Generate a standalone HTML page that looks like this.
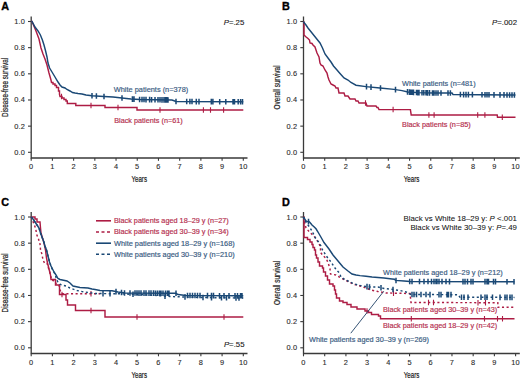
<!DOCTYPE html>
<html><head><meta charset="utf-8"><style>
html,body{margin:0;padding:0;background:#fff;width:520px;height:381px;overflow:hidden}
svg{display:block}
text{font-family:"Liberation Sans",sans-serif}
.tk{font-size:7.4px;fill:#2a2a2a;letter-spacing:0.2px;stroke:#2a2a2a;stroke-width:0.1px}
.ttl{font-size:8.9px;fill:#1a1a1a;stroke:#1a1a1a;stroke-width:0.2px}
.lt{font-size:10.8px;font-weight:bold;fill:#000;stroke:#000;stroke-width:0.35px}
.lb{font-size:7.2px}
</style></head><body>
<svg width="520" height="381" viewBox="0 0 520 381">
<path d="M31.20 16.50 V158.00 H247.50" fill="none" stroke="#3a3a3a" stroke-width="1.3"/>
<path d="M28.00 152.30 H31.20" stroke="#3a3a3a" stroke-width="1.1"/>
<text x="25.00" y="154.80" text-anchor="end" class="tk">0.0</text>
<path d="M28.00 126.14 H31.20" stroke="#3a3a3a" stroke-width="1.1"/>
<text x="25.00" y="128.64" text-anchor="end" class="tk">0.2</text>
<path d="M28.00 99.98 H31.20" stroke="#3a3a3a" stroke-width="1.1"/>
<text x="25.00" y="102.48" text-anchor="end" class="tk">0.4</text>
<path d="M28.00 73.82 H31.20" stroke="#3a3a3a" stroke-width="1.1"/>
<text x="25.00" y="76.32" text-anchor="end" class="tk">0.6</text>
<path d="M28.00 47.66 H31.20" stroke="#3a3a3a" stroke-width="1.1"/>
<text x="25.00" y="50.16" text-anchor="end" class="tk">0.8</text>
<path d="M28.00 21.50 H31.20" stroke="#3a3a3a" stroke-width="1.1"/>
<text x="25.00" y="24.00" text-anchor="end" class="tk">1.0</text>
<path d="M31.20 158.00 V160.80" stroke="#3a3a3a" stroke-width="1.1"/>
<text x="31.20" y="169.10" text-anchor="middle" class="tk">0</text>
<path d="M52.41 158.00 V160.80" stroke="#3a3a3a" stroke-width="1.1"/>
<text x="52.41" y="169.10" text-anchor="middle" class="tk">1</text>
<path d="M73.62 158.00 V160.80" stroke="#3a3a3a" stroke-width="1.1"/>
<text x="73.62" y="169.10" text-anchor="middle" class="tk">2</text>
<path d="M94.83 158.00 V160.80" stroke="#3a3a3a" stroke-width="1.1"/>
<text x="94.83" y="169.10" text-anchor="middle" class="tk">3</text>
<path d="M116.04 158.00 V160.80" stroke="#3a3a3a" stroke-width="1.1"/>
<text x="116.04" y="169.10" text-anchor="middle" class="tk">4</text>
<path d="M137.25 158.00 V160.80" stroke="#3a3a3a" stroke-width="1.1"/>
<text x="137.25" y="169.10" text-anchor="middle" class="tk">5</text>
<path d="M158.46 158.00 V160.80" stroke="#3a3a3a" stroke-width="1.1"/>
<text x="158.46" y="169.10" text-anchor="middle" class="tk">6</text>
<path d="M179.67 158.00 V160.80" stroke="#3a3a3a" stroke-width="1.1"/>
<text x="179.67" y="169.10" text-anchor="middle" class="tk">7</text>
<path d="M200.88 158.00 V160.80" stroke="#3a3a3a" stroke-width="1.1"/>
<text x="200.88" y="169.10" text-anchor="middle" class="tk">8</text>
<path d="M222.09 158.00 V160.80" stroke="#3a3a3a" stroke-width="1.1"/>
<text x="222.09" y="169.10" text-anchor="middle" class="tk">9</text>
<path d="M243.30 158.00 V160.80" stroke="#3a3a3a" stroke-width="1.1"/>
<text x="243.30" y="169.10" text-anchor="middle" class="tk">10</text>
<text x="131.50" y="182.30" class="ttl" textLength="15.5" lengthAdjust="spacingAndGlyphs">Years</text>
<text transform="translate(7.60 87.40) rotate(-90)" text-anchor="middle" class="ttl" textLength="59" lengthAdjust="spacingAndGlyphs">Disease-free survival</text>
<text x="1.20" y="10.00" class="lt">A</text>
<path d="M303.50 16.50 V158.00 H519.80" fill="none" stroke="#3a3a3a" stroke-width="1.3"/>
<path d="M300.30 152.30 H303.50" stroke="#3a3a3a" stroke-width="1.1"/>
<text x="297.30" y="154.80" text-anchor="end" class="tk">0.0</text>
<path d="M300.30 126.14 H303.50" stroke="#3a3a3a" stroke-width="1.1"/>
<text x="297.30" y="128.64" text-anchor="end" class="tk">0.2</text>
<path d="M300.30 99.98 H303.50" stroke="#3a3a3a" stroke-width="1.1"/>
<text x="297.30" y="102.48" text-anchor="end" class="tk">0.4</text>
<path d="M300.30 73.82 H303.50" stroke="#3a3a3a" stroke-width="1.1"/>
<text x="297.30" y="76.32" text-anchor="end" class="tk">0.6</text>
<path d="M300.30 47.66 H303.50" stroke="#3a3a3a" stroke-width="1.1"/>
<text x="297.30" y="50.16" text-anchor="end" class="tk">0.8</text>
<path d="M300.30 21.50 H303.50" stroke="#3a3a3a" stroke-width="1.1"/>
<text x="297.30" y="24.00" text-anchor="end" class="tk">1.0</text>
<path d="M303.50 158.00 V160.80" stroke="#3a3a3a" stroke-width="1.1"/>
<text x="303.50" y="169.10" text-anchor="middle" class="tk">0</text>
<path d="M324.71 158.00 V160.80" stroke="#3a3a3a" stroke-width="1.1"/>
<text x="324.71" y="169.10" text-anchor="middle" class="tk">1</text>
<path d="M345.92 158.00 V160.80" stroke="#3a3a3a" stroke-width="1.1"/>
<text x="345.92" y="169.10" text-anchor="middle" class="tk">2</text>
<path d="M367.13 158.00 V160.80" stroke="#3a3a3a" stroke-width="1.1"/>
<text x="367.13" y="169.10" text-anchor="middle" class="tk">3</text>
<path d="M388.34 158.00 V160.80" stroke="#3a3a3a" stroke-width="1.1"/>
<text x="388.34" y="169.10" text-anchor="middle" class="tk">4</text>
<path d="M409.55 158.00 V160.80" stroke="#3a3a3a" stroke-width="1.1"/>
<text x="409.55" y="169.10" text-anchor="middle" class="tk">5</text>
<path d="M430.76 158.00 V160.80" stroke="#3a3a3a" stroke-width="1.1"/>
<text x="430.76" y="169.10" text-anchor="middle" class="tk">6</text>
<path d="M451.97 158.00 V160.80" stroke="#3a3a3a" stroke-width="1.1"/>
<text x="451.97" y="169.10" text-anchor="middle" class="tk">7</text>
<path d="M473.18 158.00 V160.80" stroke="#3a3a3a" stroke-width="1.1"/>
<text x="473.18" y="169.10" text-anchor="middle" class="tk">8</text>
<path d="M494.39 158.00 V160.80" stroke="#3a3a3a" stroke-width="1.1"/>
<text x="494.39" y="169.10" text-anchor="middle" class="tk">9</text>
<path d="M515.60 158.00 V160.80" stroke="#3a3a3a" stroke-width="1.1"/>
<text x="515.60" y="169.10" text-anchor="middle" class="tk">10</text>
<text x="403.80" y="182.30" class="ttl" textLength="15.5" lengthAdjust="spacingAndGlyphs">Years</text>
<text transform="translate(279.90 87.40) rotate(-90)" text-anchor="middle" class="ttl" textLength="44" lengthAdjust="spacingAndGlyphs">Overall survival</text>
<text x="282.10" y="10.00" class="lt">B</text>
<path d="M31.20 212.00 V353.50 H247.50" fill="none" stroke="#3a3a3a" stroke-width="1.3"/>
<path d="M28.00 347.80 H31.20" stroke="#3a3a3a" stroke-width="1.1"/>
<text x="25.00" y="350.30" text-anchor="end" class="tk">0.0</text>
<path d="M28.00 321.64 H31.20" stroke="#3a3a3a" stroke-width="1.1"/>
<text x="25.00" y="324.14" text-anchor="end" class="tk">0.2</text>
<path d="M28.00 295.48 H31.20" stroke="#3a3a3a" stroke-width="1.1"/>
<text x="25.00" y="297.98" text-anchor="end" class="tk">0.4</text>
<path d="M28.00 269.32 H31.20" stroke="#3a3a3a" stroke-width="1.1"/>
<text x="25.00" y="271.82" text-anchor="end" class="tk">0.6</text>
<path d="M28.00 243.16 H31.20" stroke="#3a3a3a" stroke-width="1.1"/>
<text x="25.00" y="245.66" text-anchor="end" class="tk">0.8</text>
<path d="M28.00 217.00 H31.20" stroke="#3a3a3a" stroke-width="1.1"/>
<text x="25.00" y="219.50" text-anchor="end" class="tk">1.0</text>
<path d="M31.20 353.50 V356.30" stroke="#3a3a3a" stroke-width="1.1"/>
<text x="31.20" y="364.60" text-anchor="middle" class="tk">0</text>
<path d="M52.41 353.50 V356.30" stroke="#3a3a3a" stroke-width="1.1"/>
<text x="52.41" y="364.60" text-anchor="middle" class="tk">1</text>
<path d="M73.62 353.50 V356.30" stroke="#3a3a3a" stroke-width="1.1"/>
<text x="73.62" y="364.60" text-anchor="middle" class="tk">2</text>
<path d="M94.83 353.50 V356.30" stroke="#3a3a3a" stroke-width="1.1"/>
<text x="94.83" y="364.60" text-anchor="middle" class="tk">3</text>
<path d="M116.04 353.50 V356.30" stroke="#3a3a3a" stroke-width="1.1"/>
<text x="116.04" y="364.60" text-anchor="middle" class="tk">4</text>
<path d="M137.25 353.50 V356.30" stroke="#3a3a3a" stroke-width="1.1"/>
<text x="137.25" y="364.60" text-anchor="middle" class="tk">5</text>
<path d="M158.46 353.50 V356.30" stroke="#3a3a3a" stroke-width="1.1"/>
<text x="158.46" y="364.60" text-anchor="middle" class="tk">6</text>
<path d="M179.67 353.50 V356.30" stroke="#3a3a3a" stroke-width="1.1"/>
<text x="179.67" y="364.60" text-anchor="middle" class="tk">7</text>
<path d="M200.88 353.50 V356.30" stroke="#3a3a3a" stroke-width="1.1"/>
<text x="200.88" y="364.60" text-anchor="middle" class="tk">8</text>
<path d="M222.09 353.50 V356.30" stroke="#3a3a3a" stroke-width="1.1"/>
<text x="222.09" y="364.60" text-anchor="middle" class="tk">9</text>
<path d="M243.30 353.50 V356.30" stroke="#3a3a3a" stroke-width="1.1"/>
<text x="243.30" y="364.60" text-anchor="middle" class="tk">10</text>
<text x="131.50" y="377.80" class="ttl" textLength="15.5" lengthAdjust="spacingAndGlyphs">Years</text>
<text transform="translate(7.60 282.90) rotate(-90)" text-anchor="middle" class="ttl" textLength="59" lengthAdjust="spacingAndGlyphs">Disease-free survival</text>
<text x="1.20" y="205.50" class="lt">C</text>
<path d="M303.50 212.00 V353.50 H519.80" fill="none" stroke="#3a3a3a" stroke-width="1.3"/>
<path d="M300.30 347.80 H303.50" stroke="#3a3a3a" stroke-width="1.1"/>
<text x="297.30" y="350.30" text-anchor="end" class="tk">0.0</text>
<path d="M300.30 321.64 H303.50" stroke="#3a3a3a" stroke-width="1.1"/>
<text x="297.30" y="324.14" text-anchor="end" class="tk">0.2</text>
<path d="M300.30 295.48 H303.50" stroke="#3a3a3a" stroke-width="1.1"/>
<text x="297.30" y="297.98" text-anchor="end" class="tk">0.4</text>
<path d="M300.30 269.32 H303.50" stroke="#3a3a3a" stroke-width="1.1"/>
<text x="297.30" y="271.82" text-anchor="end" class="tk">0.6</text>
<path d="M300.30 243.16 H303.50" stroke="#3a3a3a" stroke-width="1.1"/>
<text x="297.30" y="245.66" text-anchor="end" class="tk">0.8</text>
<path d="M300.30 217.00 H303.50" stroke="#3a3a3a" stroke-width="1.1"/>
<text x="297.30" y="219.50" text-anchor="end" class="tk">1.0</text>
<path d="M303.50 353.50 V356.30" stroke="#3a3a3a" stroke-width="1.1"/>
<text x="303.50" y="364.60" text-anchor="middle" class="tk">0</text>
<path d="M324.71 353.50 V356.30" stroke="#3a3a3a" stroke-width="1.1"/>
<text x="324.71" y="364.60" text-anchor="middle" class="tk">1</text>
<path d="M345.92 353.50 V356.30" stroke="#3a3a3a" stroke-width="1.1"/>
<text x="345.92" y="364.60" text-anchor="middle" class="tk">2</text>
<path d="M367.13 353.50 V356.30" stroke="#3a3a3a" stroke-width="1.1"/>
<text x="367.13" y="364.60" text-anchor="middle" class="tk">3</text>
<path d="M388.34 353.50 V356.30" stroke="#3a3a3a" stroke-width="1.1"/>
<text x="388.34" y="364.60" text-anchor="middle" class="tk">4</text>
<path d="M409.55 353.50 V356.30" stroke="#3a3a3a" stroke-width="1.1"/>
<text x="409.55" y="364.60" text-anchor="middle" class="tk">5</text>
<path d="M430.76 353.50 V356.30" stroke="#3a3a3a" stroke-width="1.1"/>
<text x="430.76" y="364.60" text-anchor="middle" class="tk">6</text>
<path d="M451.97 353.50 V356.30" stroke="#3a3a3a" stroke-width="1.1"/>
<text x="451.97" y="364.60" text-anchor="middle" class="tk">7</text>
<path d="M473.18 353.50 V356.30" stroke="#3a3a3a" stroke-width="1.1"/>
<text x="473.18" y="364.60" text-anchor="middle" class="tk">8</text>
<path d="M494.39 353.50 V356.30" stroke="#3a3a3a" stroke-width="1.1"/>
<text x="494.39" y="364.60" text-anchor="middle" class="tk">9</text>
<path d="M515.60 353.50 V356.30" stroke="#3a3a3a" stroke-width="1.1"/>
<text x="515.60" y="364.60" text-anchor="middle" class="tk">10</text>
<text x="403.80" y="377.80" class="ttl" textLength="15.5" lengthAdjust="spacingAndGlyphs">Years</text>
<text transform="translate(279.90 282.90) rotate(-90)" text-anchor="middle" class="ttl" textLength="44" lengthAdjust="spacingAndGlyphs">Overall survival</text>
<text x="282.10" y="205.50" class="lt">D</text>
<path d="M31.20,21.50 L32.00,21.50 L36.00,31.00 L39.00,39.00 L41.00,48.00 L43.00,54.00 L45.00,59.00 L47.00,65.00 L49.00,73.00 L51.00,80.00 L51.50,82.50 L53.00,82.50 L53.00,84.00 L55.00,84.00 L55.00,85.50 L56.50,85.50 L56.50,87.50 L58.50,87.50 L58.50,91.00 L59.50,91.00 L59.50,94.50 L60.00,96.50 L62.00,96.50 L62.00,98.00 L64.00,98.00 L64.00,99.50 L66.00,99.50 L66.00,101.00 L67.30,101.00 L67.30,103.50 L75.80,103.50 L75.80,105.50 L105.00,105.50 L105.00,107.50 L137.00,107.50 L137.00,110.00 L243.30,110.00" fill="none" stroke="#ad1c44" stroke-width="1.45" stroke-linejoin="miter"/>
<path d="M61.50 93.75v5.5 M91.00 102.75v5.5 M118.00 104.75v5.5 M160.00 107.25v5.5 M203.40 107.25v5.5 M210.50 107.25v5.5 M223.60 107.25v5.5" stroke="#ad1c44" stroke-width="1.1" fill="none"/>
<path d="M31.20,21.50 L32.00,21.50 L35.00,27.00 L38.00,31.00 L40.40,35.00 L42.40,40.00 L44.00,45.00 L45.60,51.00 L47.00,57.00 L48.00,63.00 L49.60,68.00 L52.00,72.00 L55.00,77.00 L58.00,82.00 L60.00,85.00 L62.00,87.00 L65.00,88.00 L67.00,89.50 L70.00,91.00 L72.50,92.50 L75.00,93.00 L78.00,93.50 L82.00,94.00 L86.00,95.00 L92.00,95.80 L104.00,96.50 L113.00,97.00 L122.00,98.00 L131.00,99.00 L140.00,99.50 L172.00,100.00 L176.00,101.50 L243.30,101.80" fill="none" stroke="#1a4875" stroke-width="1.45" stroke-linejoin="miter"/>
<path d="M92.00 93.00v5.6 M96.40 93.26v5.6 M104.00 93.70v5.6 M122.00 95.20v5.6 M132.40 96.28v5.6 M134.00 96.37v5.6 M139.60 96.68v5.6 M142.00 96.73v5.6 M144.00 96.76v5.6 M146.00 96.79v5.6 M149.60 96.85v5.6 M151.60 96.88v5.6 M155.00 96.93v5.6 M158.00 96.98v5.6 M160.00 97.01v5.6 M162.00 97.04v5.6 M164.00 97.08v5.6 M165.60 97.10v5.6 M167.00 97.12v5.6 M168.00 97.14v5.6 M176.00 98.70v5.6 M186.70 98.75v5.6 M189.90 98.76v5.6 M192.00 98.77v5.6 M196.30 98.79v5.6 M199.00 98.80v5.6 M211.30 98.86v5.6 M212.90 98.86v5.6 M219.70 98.89v5.6 M225.80 98.92v5.6 M233.00 98.95v5.6 M234.50 98.96v5.6 M238.20 98.98v5.6 M240.60 98.99v5.6 M242.50 99.00v5.6" stroke="#1a4875" stroke-width="1.5" fill="none"/>
<path d="M303.50,21.50 L304.00,22.00 L304.00,35.00 L305.50,36.50 L308.00,38.50 L309.50,40.00 L310.00,43.00 L312.00,43.50 L313.00,45.00 L315.00,47.00 L316.00,50.00 L317.00,53.00 L318.00,55.00 L319.00,57.00 L320.00,63.00 L321.00,65.00 L323.00,66.00 L324.00,68.00 L325.00,70.00 L327.00,73.00 L328.00,77.00 L329.00,80.00 L330.00,82.00 L331.00,84.00 L333.00,85.00 L335.00,86.00 L336.00,88.00 L338.00,88.00 L339.00,93.00 L344.00,93.00 L345.00,96.00 L348.00,96.00 L350.00,99.00 L355.00,99.00 L356.00,101.00 L358.00,101.00 L359.00,103.00 L366.00,103.00 L367.00,106.00 L376.00,106.00 L377.00,107.50 L378.00,107.50 L379.00,109.60 L410.40,109.60 L411.20,114.90 L497.20,114.90 L497.50,117.20 L515.50,117.20" fill="none" stroke="#ad1c44" stroke-width="1.45" stroke-linejoin="miter"/>
<path d="M365.50 100.25v5.5 M393.10 106.85v5.5 M428.90 112.15v5.5 M434.10 112.15v5.5 M477.70 112.15v5.5 M484.90 112.15v5.5 M502.30 114.45v5.5" stroke="#ad1c44" stroke-width="1.1" fill="none"/>
<path d="M303.50,21.50 L304.00,22.50 L306.00,25.00 L308.00,28.00 L312.00,33.00 L316.00,38.00 L320.00,43.00 L322.50,48.00 L325.00,54.00 L328.00,58.00 L331.00,62.00 L333.50,66.00 L337.00,70.00 L340.00,73.50 L344.00,78.00 L348.00,80.00 L351.00,82.50 L356.00,85.20 L366.00,86.60 L380.00,88.00 L394.00,89.40 L402.00,90.60 L408.00,92.00 L418.00,92.60 L434.00,93.00 L452.00,93.00 L453.00,94.50 L515.50,95.00" fill="none" stroke="#1a4875" stroke-width="1.45" stroke-linejoin="miter"/>
<path d="M366.50 83.85v5.6 M371.00 84.30v5.6 M380.50 85.25v5.6 M395.50 86.83v5.6 M407.50 89.08v5.6 M409.50 89.29v5.6 M411.00 89.38v5.6 M412.50 89.47v5.6 M413.50 89.53v5.6 M416.50 89.71v5.6 M417.80 89.79v5.6 M419.00 89.83v5.6 M422.00 89.90v5.6 M423.80 89.94v5.6 M426.00 90.00v5.6 M427.50 90.04v5.6 M429.50 90.09v5.6 M432.50 90.16v5.6 M434.00 90.20v5.6 M436.00 90.20v5.6 M438.00 90.20v5.6 M441.00 90.20v5.6 M448.00 90.20v5.6 M450.40 90.20v5.6 M460.40 91.76v5.6 M463.60 91.78v5.6 M466.00 91.80v5.6 M468.40 91.82v5.6 M472.40 91.86v5.6 M482.00 91.93v5.6 M485.00 91.96v5.6 M487.00 91.97v5.6 M489.00 91.99v5.6 M494.00 92.03v5.6 M500.00 92.08v5.6 M504.00 92.11v5.6 M507.00 92.13v5.6 M509.60 92.15v5.6 M512.00 92.17v5.6 M514.40 92.19v5.6" stroke="#1a4875" stroke-width="1.5" fill="none"/>
<path d="M31.20,217.00 L35.00,217.00 L35.00,219.00 L37.00,219.00 L37.00,222.00 L40.00,222.00 L40.50,228.00 L41.00,233.00 L42.50,238.00 L44.00,243.00 L45.50,250.00 L46.50,258.00 L47.50,263.00 L48.50,267.00 L49.50,271.00 L50.50,275.00 L51.00,279.50 L55.50,279.50 L55.50,285.00 L59.50,285.00 L59.50,294.50 L66.00,294.50 L66.00,300.00 L67.50,300.00 L67.50,305.00 L75.50,305.00 L75.50,310.50 L105.00,310.50 L105.00,317.00 L243.30,317.00" fill="none" stroke="#ad1c44" stroke-width="1.45" stroke-linejoin="miter"/>
<path d="M62.00 291.75v5.5 M91.00 307.75v5.5 M137.00 314.25v5.5 M224.00 314.25v5.5" stroke="#ad1c44" stroke-width="1.1" fill="none"/>
<path d="M31.20,217.00 L32.00,219.00 L34.00,224.00 L35.80,229.00 L36.50,234.00 L38.50,239.00 L40.00,244.00 L40.50,249.50 L42.00,254.50 L43.00,260.00 L44.50,263.00 L47.00,263.00 L48.00,267.00 L49.50,271.00 L50.50,275.00 L51.50,280.00 L55.00,281.00 L56.50,285.00 L59.50,286.00 L60.00,290.00 L62.00,293.70 L100.00,293.70" fill="none" stroke="#ad1c44" stroke-width="1.45" stroke-linejoin="miter" stroke-dasharray="2.1 2.5"/>
<path d="M91.00 290.95v5.5" stroke="#ad1c44" stroke-width="1.1" fill="none"/>
<path d="M31.20,217.00 L33.00,219.00 L35.00,222.00 L37.00,225.00 L39.00,228.00 L40.50,233.00 L42.00,237.00 L43.50,241.00 L45.00,246.00 L46.50,250.00 L48.00,256.00 L49.50,262.00 L51.00,266.50 L53.00,270.50 L55.00,274.00 L56.50,279.00 L58.00,282.50 L60.00,284.30 L62.00,285.00 L66.00,286.00 L70.00,288.00 L77.00,290.50 L82.00,291.50 L88.00,292.50 L95.00,293.50 L120.00,293.80 L150.00,295.00 L170.00,296.50 L200.00,297.50 L243.30,298.00" fill="none" stroke="#1a4875" stroke-width="1.45" stroke-linejoin="miter" stroke-dasharray="2.1 2.5"/>
<path d="M103.00 290.80v5.6 M110.00 290.88v5.6 M133.00 291.52v5.6 M165.00 293.32v5.6 M185.00 294.20v5.6 M203.00 294.73v5.6 M211.50 294.83v5.6 M221.50 294.95v5.6 M226.50 295.01v5.6 M236.00 295.12v5.6 M239.00 295.15v5.6" stroke="#1a4875" stroke-width="1.5" fill="none"/>
<path d="M31.20,217.00 L33.00,219.00 L35.00,222.00 L37.00,225.00 L39.00,228.00 L40.50,233.00 L42.00,237.00 L43.50,241.00 L45.00,246.00 L46.50,250.00 L48.00,256.00 L49.50,262.00 L51.00,266.00 L52.50,269.00 L54.00,272.00 L56.00,275.00 L58.00,278.50 L60.00,279.50 L67.00,281.00 L70.00,283.00 L73.00,286.00 L80.00,287.50 L88.00,288.00 L92.00,289.00 L95.00,289.50 L100.00,290.50 L112.00,290.80 L118.00,292.00 L125.00,293.00 L176.00,293.30 L178.00,294.50 L186.00,295.50 L243.30,295.80" fill="none" stroke="#1a4875" stroke-width="1.45" stroke-linejoin="miter"/>
<path d="M116.00 288.80v5.6 M121.50 289.70v5.6 M124.50 290.13v5.6 M130.00 290.23v5.6 M135.00 290.26v5.6 M137.00 290.27v5.6 M139.00 290.28v5.6 M141.00 290.29v5.6 M144.00 290.31v5.6 M146.00 290.32v5.6 M149.00 290.34v5.6 M151.00 290.35v5.6 M153.50 290.37v5.6 M155.50 290.38v5.6 M157.50 290.39v5.6 M159.50 290.40v5.6 M161.00 290.41v5.6 M163.00 290.42v5.6 M165.50 290.44v5.6 M167.50 290.45v5.6 M169.00 290.46v5.6 M176.00 290.50v5.6 M187.50 292.71v5.6 M190.00 292.72v5.6 M192.50 292.73v5.6 M195.00 292.75v5.6 M197.50 292.76v5.6 M200.00 292.77v5.6 M207.50 292.81v5.6 M211.50 292.83v5.6 M213.50 292.84v5.6 M219.50 292.88v5.6 M224.00 292.90v5.6 M229.00 292.93v5.6 M235.00 292.96v5.6 M237.50 292.97v5.6 M240.50 292.99v5.6 M242.00 292.99v5.6" stroke="#1a4875" stroke-width="1.5" fill="none"/>
<path d="M303.50,217.00 L304.00,217.00 L304.00,237.50 L307.50,237.50 L307.50,239.50 L310.00,239.50 L310.00,242.00 L312.00,242.00 L312.00,244.50 L313.00,244.50 L313.00,247.50 L314.50,247.50 L314.50,250.00 L315.50,250.00 L315.50,255.00 L316.50,255.00 L316.50,258.00 L318.00,258.00 L318.00,262.00 L319.50,262.00 L319.50,266.00 L322.50,266.00 L322.50,268.00 L323.50,268.00 L323.50,272.00 L325.50,272.00 L325.50,276.00 L327.50,276.00 L327.50,280.00 L329.50,280.00 L329.50,284.00 L333.00,284.00 L333.00,286.00 L334.50,286.00 L334.50,290.00 L335.50,290.00 L335.50,294.00 L336.50,294.00 L336.50,298.00 L339.50,298.00 L339.50,301.00 L343.00,301.00 L343.00,302.50 L347.00,302.50 L347.00,304.50 L351.00,304.50 L351.00,307.00 L357.00,307.00 L357.00,309.00 L365.00,309.00 L365.00,311.00 L368.50,311.00 L368.50,312.50 L371.50,312.50 L371.50,314.50 L378.50,314.50 L378.50,316.00 L380.50,316.00 L380.50,318.80 L514.50,318.80" fill="none" stroke="#ad1c44" stroke-width="1.45" stroke-linejoin="miter"/>
<path d="M367.00 308.25v5.5 M411.30 316.05v5.5 M484.50 316.05v5.5 M497.50 316.05v5.5 M502.50 316.05v5.5" stroke="#ad1c44" stroke-width="1.1" fill="none"/>
<path d="M303.50,217.00 L304.00,219.00 L305.00,224.00 L306.00,228.00 L309.50,232.00 L314.00,236.00 L318.50,242.50 L320.50,247.00 L320.50,252.50 L323.50,256.00 L326.50,259.00 L328.50,264.00 L330.00,269.00 L330.50,274.00 L336.00,275.00 L340.00,277.50 L344.00,279.50 L348.00,281.50 L353.00,284.00 L358.00,285.50 L362.00,286.50 L366.00,288.00 L371.00,290.00 L378.00,291.50 L386.00,293.00 L410.00,293.50 L411.00,302.50 L497.80,302.70 L498.00,307.30 L515.00,307.30" fill="none" stroke="#ad1c44" stroke-width="1.45" stroke-linejoin="miter" stroke-dasharray="2.1 2.5"/>
<path d="M393.50 290.41v5.5 M428.50 299.79v5.5 M433.50 299.80v5.5 M478.00 299.90v5.5 M485.50 299.92v5.5" stroke="#ad1c44" stroke-width="1.1" fill="none"/>
<path d="M303.50,217.00 L304.00,220.00 L306.00,222.00 L308.00,225.00 L309.50,227.00 L312.00,231.00 L315.50,238.00 L318.50,242.00 L321.00,246.00 L322.50,250.00 L323.50,251.50 L326.00,255.50 L328.50,259.00 L331.50,262.50 L333.50,266.00 L336.50,270.00 L339.50,273.00 L341.00,277.00 L344.00,279.00 L348.00,281.00 L353.00,283.50 L358.00,285.00 L362.00,286.00 L366.00,286.50 L370.00,287.00 L378.00,287.00 L384.00,288.50 L393.00,289.50 L400.00,290.50 L406.00,292.00 L411.00,294.50 L458.00,294.70 L460.00,297.20 L514.50,297.40" fill="none" stroke="#1a4875" stroke-width="1.45" stroke-linejoin="miter" stroke-dasharray="2.1 2.5"/>
<path d="M367.00 283.82v5.6 M369.50 284.14v5.6 M381.00 284.95v5.6 M393.00 286.70v5.6 M412.00 291.70v5.6 M414.00 291.71v5.6 M416.50 291.72v5.6 M421.00 291.74v5.6 M426.00 291.76v5.6 M430.00 291.78v5.6 M439.00 291.82v5.6 M441.00 291.83v5.6 M447.00 291.85v5.6 M448.50 291.86v5.6 M451.00 291.87v5.6 M461.50 294.41v5.6 M464.00 294.41v5.6 M468.00 294.43v5.6 M481.00 294.48v5.6 M485.00 294.49v5.6 M487.00 294.50v5.6 M492.50 294.52v5.6 M500.00 294.55v5.6 M505.00 294.57v5.6 M507.00 294.57v5.6 M510.00 294.58v5.6 M512.00 294.59v5.6" stroke="#1a4875" stroke-width="1.5" fill="none"/>
<path d="M303.50,217.00 L304.00,217.50 L305.00,219.50 L306.00,221.00 L308.00,221.80 L309.00,221.50 L310.00,222.50 L312.00,225.00 L314.00,226.80 L316.00,228.80 L318.00,232.00 L320.00,235.50 L322.00,239.00 L324.00,242.50 L326.50,245.80 L329.00,249.00 L331.00,252.00 L333.00,255.00 L335.50,258.00 L338.00,261.00 L340.50,264.00 L343.00,267.00 L345.50,269.00 L348.00,271.00 L352.00,274.00 L356.00,275.00 L360.00,275.60 L366.00,276.30 L372.00,277.00 L384.00,278.00 L392.00,279.00 L394.50,279.30 L395.50,280.40 L404.00,281.00 L410.00,281.50 L514.50,281.70" fill="none" stroke="#1a4875" stroke-width="1.45" stroke-linejoin="miter"/>
<path d="M308.50 218.85v5.6 M396.00 277.64v5.6 M409.70 278.68v5.6 M412.00 278.70v5.6 M419.50 278.72v5.6 M424.00 278.73v5.6 M428.00 278.73v5.6 M431.50 278.74v5.6 M434.00 278.75v5.6 M436.00 278.75v5.6 M437.00 278.75v5.6 M439.00 278.76v5.6 M442.00 278.76v5.6 M446.00 278.77v5.6 M449.50 278.78v5.6 M463.00 278.80v5.6 M465.00 278.81v5.6 M467.50 278.81v5.6 M471.00 278.82v5.6 M473.00 278.82v5.6 M485.00 278.84v5.6 M487.00 278.85v5.6 M488.50 278.85v5.6 M493.50 278.86v5.6 M495.50 278.86v5.6 M507.00 278.89v5.6 M514.00 278.90v5.6" stroke="#1a4875" stroke-width="1.5" fill="none"/>
<path d="M350.8 333.2 L383.8 291.2" stroke="#2b4b6e" stroke-width="0.95"/>
<text x="113.8" y="91.8" fill="#3a5c82" stroke="#3a5c82" stroke-width="0.18" font-size="7.3" text-anchor="start" textLength="74.5" lengthAdjust="spacingAndGlyphs">White patients (n=378)</text>
<text x="114.2" y="122.7" fill="#b5304f" stroke="#b5304f" stroke-width="0.18" font-size="7.3" text-anchor="start" textLength="68.5" lengthAdjust="spacingAndGlyphs">Black patients (n=61)</text>
<text x="402" y="85.5" fill="#3a5c82" stroke="#3a5c82" stroke-width="0.18" font-size="7.3" text-anchor="start" textLength="73.6" lengthAdjust="spacingAndGlyphs">White patients (n=481)</text>
<text x="402.1" y="126.8" fill="#b5304f" stroke="#b5304f" stroke-width="0.18" font-size="7.3" text-anchor="start" textLength="68.6" lengthAdjust="spacingAndGlyphs">Black patients (n=85)</text>
<text x="244.3" y="25" fill="#1a1a1a" stroke="#1a1a1a" stroke-width="0.12" font-size="7.8" text-anchor="end"><tspan font-style="italic">P</tspan>=.25</text>
<text x="517" y="25" fill="#1a1a1a" stroke="#1a1a1a" stroke-width="0.12" font-size="7.8" text-anchor="end"><tspan font-style="italic">P</tspan>=.002</text>
<text x="244.5" y="347" fill="#1a1a1a" stroke="#1a1a1a" stroke-width="0.12" font-size="7.8" text-anchor="end"><tspan font-style="italic">P</tspan>=.55</text>
<text x="517" y="220.6" fill="#111" stroke="#111" stroke-width="0.05" font-size="7.6" text-anchor="end" textLength="113.6" lengthAdjust="spacingAndGlyphs">Black vs White 18–29 y: <tspan font-style="italic">P</tspan> &lt;.001</text>
<text x="517" y="229.9" fill="#111" stroke="#111" stroke-width="0.05" font-size="7.6" text-anchor="end" textLength="106.6" lengthAdjust="spacingAndGlyphs">Black vs White 30–39 y: <tspan font-style="italic">P</tspan>=.49</text>
<path d="M96 220.8H111" stroke="#ad1c44" stroke-width="1.6"/>
<path d="M96 232H111" stroke="#ad1c44" stroke-width="1.6" stroke-dasharray="3 2.5"/>
<path d="M96 243.2H111" stroke="#1a4875" stroke-width="1.6"/>
<path d="M96 254.3H111" stroke="#1a4875" stroke-width="1.6" stroke-dasharray="3 2.5"/>
<text x="114" y="223.10000000000002" fill="#b5304f" stroke="#b5304f" stroke-width="0.18" font-size="7.3" text-anchor="start" textLength="114.8" lengthAdjust="spacingAndGlyphs">Black patients aged 18–29 y (n=27)</text>
<text x="114" y="234.3" fill="#b5304f" stroke="#b5304f" stroke-width="0.18" font-size="7.3" text-anchor="start" textLength="114.8" lengthAdjust="spacingAndGlyphs">Black patients aged 30–39 y (n=34)</text>
<text x="114" y="245.5" fill="#3a5c82" stroke="#3a5c82" stroke-width="0.18" font-size="7.3" text-anchor="start" textLength="120.7" lengthAdjust="spacingAndGlyphs">White patients aged 18–29 y (n=168)</text>
<text x="114" y="256.6" fill="#3a5c82" stroke="#3a5c82" stroke-width="0.18" font-size="7.3" text-anchor="start" textLength="120.7" lengthAdjust="spacingAndGlyphs">White patients aged 30–39 y (n=210)</text>
<text x="383.1" y="275" fill="#3a5c82" stroke="#3a5c82" stroke-width="0.18" font-size="7.3" text-anchor="start" textLength="119.6" lengthAdjust="spacingAndGlyphs">White patients aged 18–29 y (n=212)</text>
<text x="383" y="311.6" fill="#b5304f" stroke="#b5304f" stroke-width="0.18" font-size="7.3" text-anchor="start" textLength="114.2" lengthAdjust="spacingAndGlyphs">Black patients aged 30–39 y (n=43)</text>
<text x="383" y="328.4" fill="#b5304f" stroke="#b5304f" stroke-width="0.18" font-size="7.3" text-anchor="start" textLength="114.2" lengthAdjust="spacingAndGlyphs">Black patients aged 18–29 y (n=42)</text>
<text x="309" y="341.7" fill="#3a5c82" stroke="#3a5c82" stroke-width="0.18" font-size="7.3" text-anchor="start" textLength="120" lengthAdjust="spacingAndGlyphs">White patients aged 30–39 y (n=269)</text>
</svg>
</body></html>
